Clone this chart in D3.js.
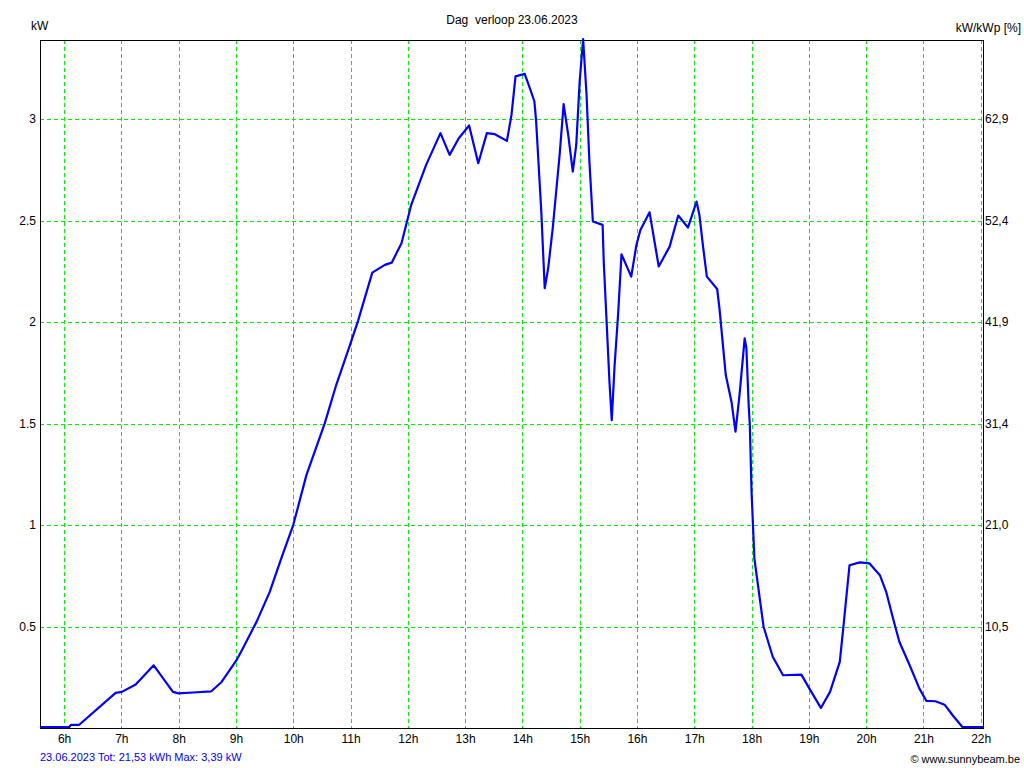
<!DOCTYPE html>
<html>
<head>
<meta charset="utf-8">
<script src="https://cdn.jsdelivr.net/npm/d3@7"></script>
<style>
  html, body { margin: 0; padding: 0; background: #fff; }
  svg { display: block; }
  text { font-family: "Liberation Sans", Arial, sans-serif; }
</style>
</head>
<body>
<svg id="chart" width="1024" height="768"></svg>
<script>
// ---- data (time in decimal hours, power in kW) ----
const hours = [5.58, 6.09, 6.12, 6.26, 6.90, 7.01, 7.25, 7.565, 7.90, 8.00, 8.25, 8.57, 8.75, 9.01, 9.12, 9.36, 9.59, 9.79,
  10.00, 10.23, 10.55, 10.75, 10.99, 11.13, 11.38, 11.60, 11.72, 11.89, 12.06, 12.32, 12.57, 12.73, 12.89, 13.07, 13.23,
  13.38, 13.52, 13.73, 13.81, 13.88, 14.04, 14.13, 14.21, 14.24, 14.33, 14.39, 14.45, 14.53, 14.65, 14.72, 14.80, 14.88,
  14.94, 15.00, 15.06, 15.12, 15.17, 15.23, 15.40, 15.42, 15.47, 15.52, 15.56, 15.61, 15.67, 15.73, 15.90, 15.99, 16.06,
  16.22, 16.38, 16.57, 16.72, 16.89, 17.04, 17.09, 17.15, 17.22, 17.40, 17.44, 17.55, 17.65, 17.72, 17.79, 17.88, 17.91,
  17.95, 17.97, 18.00, 18.05, 18.21, 18.37, 18.55, 18.87, 19.01, 19.21, 19.37, 19.54, 19.60, 19.71, 19.89, 20.06, 20.24,
  20.35, 20.47, 20.58, 20.76, 20.93, 21.05, 21.21, 21.37, 21.51, 21.68, 22.04];
const power = [0, 0, 0.01, 0.01, 0.168, 0.173, 0.209, 0.304, 0.173, 0.166, 0.170, 0.176, 0.222, 0.329, 0.387, 0.518, 0.666, 0.830,
  0.995, 1.241, 1.496, 1.685, 1.882, 2.000, 2.239, 2.277, 2.288, 2.384, 2.573, 2.770, 2.926, 2.819, 2.901, 2.964, 2.778,
  2.926, 2.921, 2.888, 3.016, 3.206, 3.218, 3.148, 3.082, 2.984, 2.540, 2.162, 2.260, 2.458, 2.819, 3.069, 2.918, 2.737,
  2.868, 3.181, 3.39, 3.115, 2.786, 2.491, 2.474, 2.293, 1.998, 1.702, 1.512, 1.784, 2.030, 2.329, 2.219, 2.375, 2.449,
  2.536, 2.269, 2.367, 2.520, 2.461, 2.589, 2.523, 2.375, 2.219, 2.158, 2.063, 1.734, 1.603, 1.455, 1.636, 1.915, 1.866,
  1.586, 1.488, 1.159, 0.830, 0.494, 0.346, 0.255, 0.258, 0.189, 0.094, 0.173, 0.321, 0.485, 0.797, 0.811, 0.806, 0.748,
  0.666, 0.535, 0.420, 0.304, 0.189, 0.129, 0.127, 0.110, 0.058, 0, 0];

const xTickValues = [6, 7, 8, 9, 10, 11, 12, 13, 14, 15, 16, 17, 18, 19, 20, 21, 22];
const xTickLabels = ["6h", "7h", "8h", "9h", "10h", "11h", "12h", "13h", "14h", "15h", "16h", "17h", "18h", "19h", "20h", "21h", "22h"];
const yTickValues = [0.5, 1, 1.5, 2, 2.5, 3];
const yTickLabels = ["0.5", "1", "1.5", "2", "2.5", "3"];
const yRightLabels = ["10,5", "21,0", "31,4", "41,9", "52,4", "62,9"];

const title = "Dag  verloop 23.06.2023";
const footerLeft = "23.06.2023 Tot: 21,53 kWh Max: 3,39 kW";
const footerRight = "© www.sunnybeam.be";

// ---- layout ----
const L = 40, R = 983, T = 40, B = 728;
const svg = d3.select("#chart");
const x = d3.scaleLinear().domain([5.58, 22.04]).range([L, R]);
const y = d3.scaleLinear().domain([0, 3.39]).range([B, T]);

const gridColor = "#00f000";

// vertical grid (pixel-snapped)
svg.append("g").attr("shape-rendering", "crispEdges").selectAll("line").data(xTickValues).join("line")
  .attr("x1", d => Math.round(x(d)) + 0.5).attr("x2", d => Math.round(x(d)) + 0.5)
  .attr("y1", T).attr("y2", B)
  .attr("stroke", gridColor).attr("stroke-width", 1).attr("stroke-dasharray", "4,3");

// horizontal grid (pixel-snapped)
svg.append("g").attr("shape-rendering", "crispEdges").selectAll("line").data(yTickValues).join("line")
  .attr("y1", d => Math.round(y(d)) + 0.5).attr("y2", d => Math.round(y(d)) + 0.5)
  .attr("x1", L).attr("x2", R)
  .attr("stroke", gridColor).attr("stroke-width", 1).attr("stroke-dasharray", "4,3");

// frame
svg.append("rect")
  .attr("x", L + 0.5).attr("y", T + 0.5)
  .attr("width", R - L).attr("height", B - T)
  .attr("fill", "none").attr("stroke", "#000").attr("stroke-width", 1)
  .attr("shape-rendering", "crispEdges");

// x labels
svg.append("g")
  .attr("transform", `translate(0,${B})`)
  .call(d3.axisBottom(x).tickValues(xTickValues).tickSize(0).tickPadding(6)
    .tickFormat((d, i) => xTickLabels[i]))
  .call(g => g.select(".domain").remove())
  .call(g => g.selectAll("text").attr("font-size", 12).attr("fill", "#000")
    .attr("font-family", "Liberation Sans, Arial, sans-serif"));

// left y labels
svg.append("g")
  .attr("transform", `translate(${L},0)`)
  .call(d3.axisLeft(y).tickValues(yTickValues).tickSize(0).tickPadding(4)
    .tickFormat((d, i) => yTickLabels[i]))
  .call(g => g.select(".domain").remove())
  .call(g => g.selectAll("text").attr("font-size", 12).attr("fill", "#000")
    .attr("font-family", "Liberation Sans, Arial, sans-serif"));

// right y labels
svg.append("g")
  .attr("transform", `translate(${R},0)`)
  .call(d3.axisRight(y).tickValues(yTickValues).tickSize(0).tickPadding(2)
    .tickFormat((d, i) => yRightLabels[i]))
  .call(g => g.select(".domain").remove())
  .call(g => g.selectAll("text").attr("font-size", 12).attr("fill", "#000")
    .attr("font-family", "Liberation Sans, Arial, sans-serif"));

// line
const data = hours.map((h, i) => ({ h, p: power[i] }));
svg.append("path")
  .datum(data)
  .attr("fill", "none")
  .attr("stroke", "#0000ff")
  .attr("stroke-width", 2.2)
  .attr("stroke-linejoin", "round")
  .attr("d", d3.line().x(d => x(d.h)).y(d => y(d.p) - 1));

// texts
svg.append("text").attr("x", 512).attr("y", 24).attr("text-anchor", "middle")
  .attr("font-size", 12).style("white-space", "pre").text(title);
svg.append("text").attr("x", 31).attr("y", 30).attr("font-size", 12).text("kW");
svg.append("text").attr("x", 1021).attr("y", 32).attr("text-anchor", "end")
  .attr("font-size", 12).text("kW/kWp [%]");
svg.append("text").attr("x", 40).attr("y", 761).attr("font-size", 11)
  .attr("fill", "#0000ff").text(footerLeft);
svg.append("text").attr("x", 1020).attr("y", 763).attr("text-anchor", "end")
  .attr("font-size", 11).attr("fill", "#000").text(footerRight);
</script>
</body>
</html>
